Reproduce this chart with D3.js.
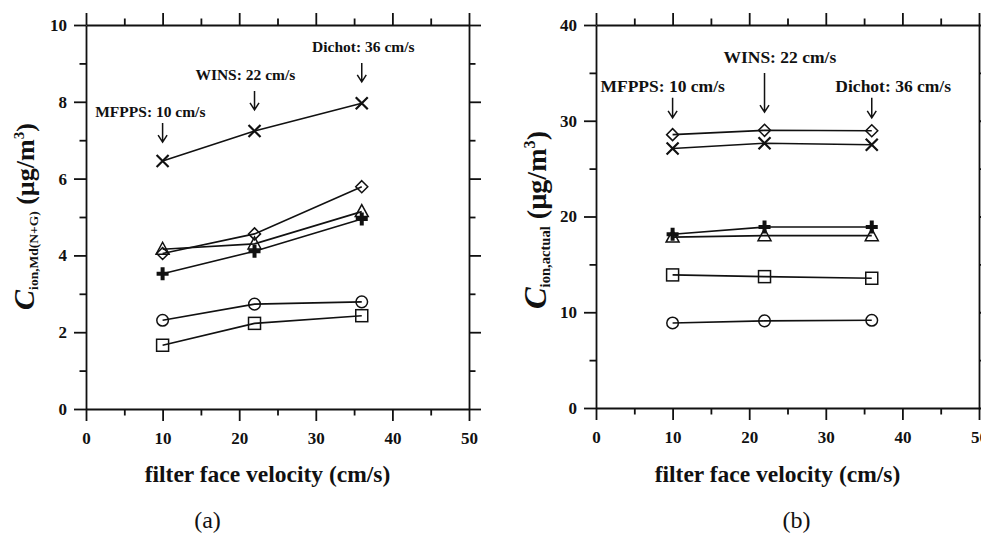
<!DOCTYPE html>
<html><head><meta charset="utf-8">
<script src="https://cdn.jsdelivr.net/npm/d3@7"></script>
<style>body{margin:0;background:#fff}svg{display:block}</style>
</head><body>
<svg id="c" width="981" height="533"></svg>
<script>
// ---------- data ----------
const velocities = [10, 22, 36];
// panel (a): C_ion,Md(N+G)
const a_times    = [6.46, 7.24, 7.96];
const a_diamond  = [4.05, 4.56, 5.79];
const a_triangle = [4.16, 4.30, 5.14];
const a_plus     = [3.52, 4.11, 4.95];
const a_circle   = [2.31, 2.73, 2.79];
const a_square   = [1.66, 2.23, 2.43];
// panel (b): C_ion,actual
const b_diamond  = [28.55, 29.0, 28.95];
const b_times    = [27.1, 27.65, 27.5];
const b_plus     = [18.15, 18.9, 18.9];
const b_triangle = [17.85, 18.0, 18.0];
const b_square   = [13.9, 13.72, 13.55];
const b_circle   = [8.88, 9.1, 9.16];
// ticks
const xTicks  = [0, 10, 20, 30, 40, 50];
const xMinor  = [5, 15, 25, 35, 45];
const aYTicks = [0, 2, 4, 6, 8, 10];
const aYMinor = [1, 3, 5, 7, 9];
const bYTicks = [0, 10, 20, 30, 40];
const bYMinor = [5, 15, 25, 35];
// annotations
const samplerNames = ["MFPPS: 10 cm/s", "WINS: 22 cm/s", "Dichot: 36 cm/s"];
const aLabelX = [8.4, 20.8, 36.2];
const aLabelY = [7.60, 8.58, 9.30];
const aArrowTop = [7.45, 8.28, 9.01];
const aArrowBot = [6.95, 7.79, 8.52];
const bLabelX = [8.7, 24.0, 38.8];
const bLabelY = [33.0, 36.0, 33.0];
const bArrowTop = [32.4, 35.0, 32.4];
const bArrowBot = [30.3, 30.9, 30.3];

const SERIF = "'Liberation Serif','Times New Roman',serif";
const INK = "#111";
const svg = d3.select("#c");

function marker(g, type, cx, cy) {
  const p = d3.path();
  if (type === "times") {
    p.moveTo(cx - 6, cy - 6); p.lineTo(cx + 6, cy + 6);
    p.moveTo(cx - 6, cy + 6); p.lineTo(cx + 6, cy - 6);
    g.append("path").attr("d", p.toString()).attr("fill", "none").attr("stroke", INK).attr("stroke-width", 2.2);
  } else if (type === "diamond") {
    p.moveTo(cx, cy - 6); p.lineTo(cx + 6, cy); p.lineTo(cx, cy + 6); p.lineTo(cx - 6, cy); p.closePath();
    g.append("path").attr("d", p.toString()).attr("fill", "none").attr("stroke", INK).attr("stroke-width", 1.5);
  } else if (type === "triangle") {
    p.moveTo(cx, cy - 7); p.lineTo(cx + 6.5, cy + 5); p.lineTo(cx - 6.5, cy + 5); p.closePath();
    g.append("path").attr("d", p.toString()).attr("fill", "none").attr("stroke", INK).attr("stroke-width", 1.5);
  } else if (type === "plus") {
    p.moveTo(cx - 6, cy); p.lineTo(cx + 6, cy);
    p.moveTo(cx, cy - 6.5); p.lineTo(cx, cy + 6.5);
    g.append("path").attr("d", p.toString()).attr("fill", "none").attr("stroke", INK).attr("stroke-width", 4);
  } else if (type === "circle") {
    g.append("circle").attr("cx", cx).attr("cy", cy).attr("r", 5.8).attr("fill", "none").attr("stroke", INK).attr("stroke-width", 1.5);
  } else if (type === "square") {
    g.append("rect").attr("x", cx - 6).attr("y", cy - 6).attr("width", 12).attr("height", 12).attr("fill", "none").attr("stroke", INK).attr("stroke-width", 1.5);
  }
}

function panel(o) {
  const x = d3.scaleLinear().domain([0, 50]).range([o.x0, o.x1]);
  const y = d3.scaleLinear().domain([0, o.ymax]).range([o.yb, o.yt]);
  const g = svg.append("g");
  const styleAxis = sel => {
    sel.selectAll("path.domain").attr("stroke", INK).attr("stroke-width", 1.8);
    sel.selectAll(".tick line").attr("stroke", INK).attr("stroke-width", 1.8);
    sel.selectAll(".tick text").attr("fill", INK).style("font-family", SERIF).style("font-weight", "bold").style("font-size", "17px");
  };
  // major axes
  g.append("g").attr("transform", `translate(0,${o.yb})`)
    .call(d3.axisBottom(x).tickValues(xTicks).tickSize(12).tickSizeOuter(0).tickPadding(11).tickFormat(d3.format("d")))
    .call(styleAxis);
  g.append("g").attr("transform", `translate(0,${o.yt})`)
    .call(d3.axisTop(x).tickValues(xTicks).tickSize(12).tickSizeOuter(0).tickFormat(""))
    .call(styleAxis);
  g.append("g").attr("transform", `translate(${o.x0},0)`)
    .call(d3.axisLeft(y).tickValues(o.yTicks).tickSize(12).tickSizeOuter(0).tickPadding(7).tickFormat(d3.format("d")))
    .call(styleAxis);
  g.append("g").attr("transform", `translate(${o.x1},0)`)
    .call(d3.axisRight(y).tickValues(o.yTicks).tickSize(12).tickSizeOuter(0).tickFormat(""))
    .call(styleAxis);
  // minor ticks
  const minor = (axisFn, tr, vals) => g.append("g").attr("transform", tr)
    .call(axisFn.tickValues(vals).tickSize(6.5).tickFormat(""))
    .call(sel => sel.select("path.domain").remove())
    .call(styleAxis);
  minor(d3.axisBottom(x), `translate(0,${o.yb})`, xMinor);
  minor(d3.axisTop(x), `translate(0,${o.yt})`, xMinor);
  minor(d3.axisLeft(y), `translate(${o.x0},0)`, o.yMinor);
  minor(d3.axisRight(y), `translate(${o.x1},0)`, o.yMinor);

  // series
  const line = d3.line().x((d, i) => x(velocities[i])).y(d => y(d));
  o.series.forEach(s => {
    g.append("path").attr("d", line(s.values)).attr("fill", "none").attr("stroke", INK).attr("stroke-width", 1.6);
  });
  o.series.forEach(s => {
    s.values.forEach((v, i) => marker(g, s.type, x(velocities[i]), y(v)));
  });

  // annotations
  samplerNames.forEach((name, i) => {
    g.append("text").attr("x", x(o.labelX[i])).attr("y", y(o.labelY[i]))
      .attr("text-anchor", "middle").attr("fill", INK)
      .style("font-family", SERIF).style("font-weight", "bold").style("font-size", o.annSize + "px")
      .text(name);
    const ax = x(velocities[i]), t = y(o.arrowTop[i]), b = y(o.arrowBot[i]);
    const p = d3.path();
    p.moveTo(ax, t); p.lineTo(ax, b);
    p.moveTo(ax - 4.5, b - 7); p.lineTo(ax, b); p.lineTo(ax + 4.5, b - 7);
    g.append("path").attr("d", p.toString()).attr("fill", "none").attr("stroke", INK).attr("stroke-width", 1.5);
  });

  // x title
  g.append("text").attr("x", o.xTitleX).attr("y", 482).attr("text-anchor", "middle").attr("fill", INK)
    .style("font-family", SERIF).style("font-weight", "bold").style("font-size", "23.5px")
    .text("filter face velocity (cm/s)");
  // panel tag
  g.append("text").attr("x", o.tagX).attr("y", 528).attr("text-anchor", "middle").attr("fill", INK)
    .style("font-family", SERIF).style("font-size", "24px").text(o.tag);

  // y title
  const k = o.labScale;
  const lab = g.append("text").attr("transform", `translate(${o.yTitleX},${o.yTitleY}) rotate(-90)`)
    .attr("text-anchor", "middle").attr("fill", INK).style("font-family", SERIF).style("font-weight", "bold");
  lab.append("tspan").text("C").style("font-style", "italic").style("font-size", (30 * k) + "px");
  lab.append("tspan").text(o.sub).attr("dy", 4 * k).style("font-size", (13.5 * k) + "px");
  lab.append("tspan").text(" (µg/m").attr("dy", -4 * k).style("font-size", (26 * k) + "px");
  lab.append("tspan").text("3").attr("dy", -10 * k).style("font-size", (15 * k) + "px");
  lab.append("tspan").text(")").attr("dy", 10 * k).style("font-size", (26 * k) + "px");
}

panel({
  x0: 86, x1: 469, yb: 409, yt: 25, ymax: 10,
  yTicks: aYTicks, yMinor: aYMinor,
  series: [
    {type: "times", values: a_times},
    {type: "diamond", values: a_diamond},
    {type: "triangle", values: a_triangle},
    {type: "plus", values: a_plus},
    {type: "circle", values: a_circle},
    {type: "square", values: a_square}
  ],
  labelX: aLabelX, labelY: aLabelY, arrowTop: aArrowTop, arrowBot: aArrowBot, annSize: 15.5,
  xTitleX: 267.5, tag: "(a)", tagX: 207.5,
  sub: "ion,Md(N+G)", yTitleX: 34, yTitleY: 216.5, labScale: 1
});
panel({
  x0: 596, x1: 979, yb: 408, yt: 25, ymax: 40,
  yTicks: bYTicks, yMinor: bYMinor,
  series: [
    {type: "diamond", values: b_diamond},
    {type: "times", values: b_times},
    {type: "plus", values: b_plus},
    {type: "triangle", values: b_triangle},
    {type: "square", values: b_square},
    {type: "circle", values: b_circle}
  ],
  labelX: bLabelX, labelY: bLabelY, arrowTop: bArrowTop, arrowBot: bArrowBot, annSize: 17.5,
  xTitleX: 777.5, tag: "(b)", tagX: 796.5,
  sub: "ion,actual", yTitleX: 546, yTitleY: 220, labScale: 1.08
});
</script>
</body></html>
